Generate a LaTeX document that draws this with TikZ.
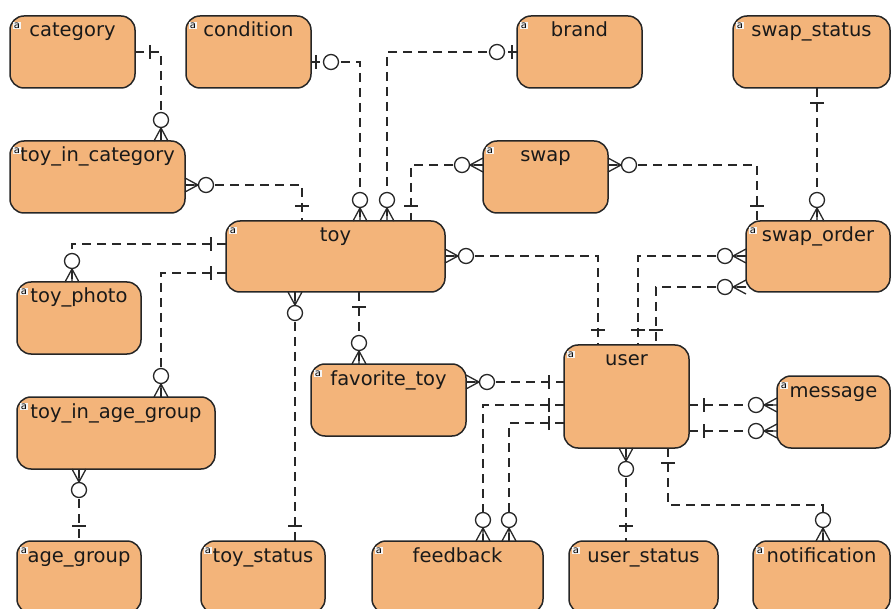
\documentclass[tikz,border=0pt]{standalone}
\usepackage{fontspec}
\setmainfont{DejaVu Sans}
\usetikzlibrary{calc}

\definecolor{entfill}{RGB}{243,180,122}
\definecolor{entdraw}{RGB}{38,38,38}
\definecolor{linkc}{RGB}{40,40,40}

% crow's foot end symbols, drawn with the entity edge at the origin and
% the connector leaving along +x
\tikzset{
  sym/.style={draw=linkc, line width=1.3pt, solid},
  barone/.pic={\draw[sym] (15,-7) -- (15,7);},
  barzero/.pic={\draw[sym] (5,-7) -- (5,7);
                \draw[sym, fill=white] (20,0) circle[radius=7.5];},
  crowzero/.pic={\draw[sym] (0,-7) -- (13,0) -- (0,7) (0,0) -- (13,0);
                 \draw[sym, fill=white] (21,0) circle[radius=7.5];},
}

% entity box: name, x1, y1, x2, y2, title
\newcommand{\entitybox}[6]{%
  \node[entity, anchor=north west, minimum width={(#4)-(#2)},
        minimum height={(#5)-(#3)}] (#1) at (#2,#3) {};
  \node[elabel] (#1-l) at ([yshift=-21pt]#1.north) {#6};
  \node[eicon] (#1-i) at ([xshift=7pt,yshift=-9.5pt]#1.north west) {a};
}

\begin{document}
\begin{tikzpicture}[x=1pt,y=-1pt,
  entity/.style={rectangle, rounded corners=14pt, draw=entdraw, line width=1.5pt,
                 fill=entfill, inner sep=0pt, outer sep=0pt},
  elabel/.style={anchor=base, inner sep=0pt, font=\fontsize{19.5}{23}\selectfont, text=black!90},
  eicon/.style={fill=gray!8, text=black, inner sep=0.3pt, minimum width=8pt,
                minimum height=7.5pt, font=\fontsize{10}{10}\selectfont},
  rel/.style={draw=linkc, line width=1.3pt, dash pattern=on 9pt off 6pt},
]
\useasboundingbox (0,0) rectangle (891,609);
\clip (0,0) rectangle (891,609);

% ---------- entities ----------
\entitybox{category}{10}{16}{135}{88}{category}
\entitybox{condition}{186}{16}{311}{88}{condition}
\entitybox{brand}{517}{16}{642}{88}{brand}
\entitybox{swap-status}{733}{16}{890}{88}{swap\_status}
\entitybox{toy-in-category}{10}{141}{185}{213}{toy\_in\_category}
\entitybox{swap}{483}{141}{608}{213}{swap}
\entitybox{toy}{226}{221}{445}{292}{toy}
\entitybox{swap-order}{746}{221}{890}{292}{swap\_order}
\entitybox{toy-photo}{17}{282}{141}{354}{toy\_photo}
\entitybox{toy-in-age-group}{17}{397}{215}{469}{toy\_in\_age\_group}
\entitybox{favorite-toy}{311}{364}{466}{436}{favorite\_toy}
\entitybox{user}{564}{345}{689}{448}{user}
\entitybox{message}{777}{376}{890}{448}{message}
\entitybox{age-group}{17}{541}{141}{613}{age\_group}
\entitybox{toy-status}{201}{541}{325}{613}{toy\_status}
\entitybox{feedback}{372}{541}{543}{613}{feedback}
\entitybox{user-status}{569}{541}{718}{613}{user\_status}
\entitybox{notification}{753}{541}{890}{613}{notification}

% ---------- relationships ----------
% category -- toy_in_category
\coordinate (r1a) at ([yshift=-36pt]category.north east);
\coordinate (r1b) at ([xshift=151pt]toy-in-category.north west);
\draw[rel] (r1a) -| (r1b);
\pic at (r1a) {barone};
\pic[rotate=90] at (r1b) {crowzero};

% toy_in_category -- toy
\coordinate (r2a) at ([yshift=-44pt]toy-in-category.north east);
\coordinate (r2b) at ([xshift=76pt]toy.north west);
\draw[rel] (r2a) -| (r2b);
\pic at (r2a) {crowzero};
\pic[rotate=90] at (r2b) {barone};

% condition -- toy
\coordinate (r3a) at ([yshift=-46pt]condition.north east);
\coordinate (r3b) at ([xshift=134pt]toy.north west);
\draw[rel] (r3a) -| (r3b);
\pic at (r3a) {barzero};
\pic[rotate=90] at (r3b) {crowzero};

% brand -- toy
\coordinate (r4a) at ([yshift=-36pt]brand.north west);
\coordinate (r4b) at ([xshift=161pt]toy.north west);
\draw[rel] (r4a) -| (r4b);
\pic[rotate=180] at (r4a) {barzero};
\pic[rotate=90] at (r4b) {crowzero};

% swap -- toy
\coordinate (r5a) at ([yshift=-24pt]swap.north west);
\coordinate (r5b) at ([xshift=185pt]toy.north west);
\draw[rel] (r5a) -| (r5b);
\pic[rotate=180] at (r5a) {crowzero};
\pic[rotate=90] at (r5b) {barone};

% swap -- swap_order
\coordinate (r6a) at ([yshift=-24pt]swap.north east);
\coordinate (r6b) at ([xshift=11pt]swap-order.north west);
\draw[rel] (r6a) -| (r6b);
\pic at (r6a) {crowzero};
\pic[rotate=90] at (r6b) {barone};

% swap_status -- swap_order
\coordinate (r7a) at ([xshift=84pt]swap-status.south west);
\coordinate (r7b) at ([xshift=71pt]swap-order.north west);
\draw[rel] (r7a) -- (r7b);
\pic[rotate=-90] at (r7a) {barone};
\pic[rotate=90] at (r7b) {crowzero};

% toy -- toy_photo
\coordinate (r8a) at ([yshift=-23pt]toy.north west);
\coordinate (r8b) at ([xshift=55pt]toy-photo.north west);
\draw[rel] (r8a) -| (r8b);
\pic[rotate=180] at (r8a) {barone};
\pic[rotate=90] at (r8b) {crowzero};

% toy -- toy_in_age_group
\coordinate (r9a) at ([yshift=-52pt]toy.north west);
\coordinate (r9b) at ([xshift=144pt]toy-in-age-group.north west);
\draw[rel] (r9a) -| (r9b);
\pic[rotate=180] at (r9a) {barone};
\pic[rotate=90] at (r9b) {crowzero};

% toy_in_age_group -- age_group
\coordinate (r10a) at ([xshift=62pt]toy-in-age-group.south west);
\coordinate (r10b) at ([xshift=62pt]age-group.north west);
\draw[rel] (r10a) -- (r10b);
\pic[rotate=-90] at (r10a) {crowzero};
\pic[rotate=90] at (r10b) {barone};

% toy -- toy_status
\coordinate (r11a) at ([xshift=69pt]toy.south west);
\coordinate (r11b) at ([xshift=94pt]toy-status.north west);
\draw[rel] (r11a) -- (r11b);
\pic[rotate=-90] at (r11a) {crowzero};
\pic[rotate=90] at (r11b) {barone};

% toy -- favorite_toy
\coordinate (r12a) at ([xshift=133pt]toy.south west);
\coordinate (r12b) at ([xshift=48pt]favorite-toy.north west);
\draw[rel] (r12a) -- (r12b);
\pic[rotate=-90] at (r12a) {barone};
\pic[rotate=90] at (r12b) {crowzero};

% toy -- user
\coordinate (r13a) at ([yshift=-35pt]toy.north east);
\coordinate (r13b) at ([xshift=34pt]user.north west);
\draw[rel] (r13a) -| (r13b);
\pic at (r13a) {crowzero};
\pic[rotate=90] at (r13b) {barone};

% swap_order -- user (two links)
\coordinate (r14a) at ([yshift=-35pt]swap-order.north west);
\coordinate (r14b) at ([xshift=74pt]user.north west);
\draw[rel] (r14a) -| (r14b);
\pic[rotate=180] at (r14a) {crowzero};
\pic[rotate=90] at (r14b) {barone};
\coordinate (r15a) at ([yshift=-66pt]swap-order.north west);
\coordinate (r15b) at ([xshift=92pt]user.north west);
\draw[rel] (r15a) -| (r15b);
\pic[rotate=180] at (r15a) {crowzero};
\pic[rotate=90] at (r15b) {barone};

% favorite_toy -- user
\coordinate (r16a) at ([yshift=-18pt]favorite-toy.north east);
\coordinate (r16b) at ([yshift=-37pt]user.north west);
\draw[rel] (r16a) -- (r16b);
\pic at (r16a) {crowzero};
\pic[rotate=180] at (r16b) {barone};

% user -- feedback (two links)
\coordinate (r17a) at ([yshift=-60pt]user.north west);
\coordinate (r17b) at ([xshift=111pt]feedback.north west);
\draw[rel] (r17a) -| (r17b);
\pic[rotate=180] at (r17a) {barone};
\pic[rotate=90] at (r17b) {crowzero};
\coordinate (r18a) at ([yshift=-78pt]user.north west);
\coordinate (r18b) at ([xshift=137pt]feedback.north west);
\draw[rel] (r18a) -| (r18b);
\pic[rotate=180] at (r18a) {barone};
\pic[rotate=90] at (r18b) {crowzero};

% user -- message (two links)
\coordinate (r19a) at ([yshift=-60pt]user.north east);
\coordinate (r19b) at ([yshift=-29pt]message.north west);
\draw[rel] (r19a) -- (r19b);
\pic at (r19a) {barone};
\pic[rotate=180] at (r19b) {crowzero};
\coordinate (r20a) at ([yshift=-86pt]user.north east);
\coordinate (r20b) at ([yshift=-55pt]message.north west);
\draw[rel] (r20a) -- (r20b);
\pic at (r20a) {barone};
\pic[rotate=180] at (r20b) {crowzero};

% user -- user_status
\coordinate (r21a) at ([xshift=62pt]user.south west);
\coordinate (r21b) at ([xshift=57pt]user-status.north west);
\draw[rel] (r21a) -- (r21b);
\pic[rotate=-90] at (r21a) {crowzero};
\pic[rotate=90] at (r21b) {barone};

% user -- notification
\coordinate (r22a) at ([xshift=104pt]user.south west);
\coordinate (r22b) at ([xshift=70pt]notification.north west);
\coordinate (r22m) at ([yshift=36pt]r22b);
\draw[rel] (r22a) |- (r22m) -- (r22b);
\pic[rotate=-90] at (r22a) {barone};
\pic[rotate=90] at (r22b) {crowzero};
\end{tikzpicture}
\end{document}
